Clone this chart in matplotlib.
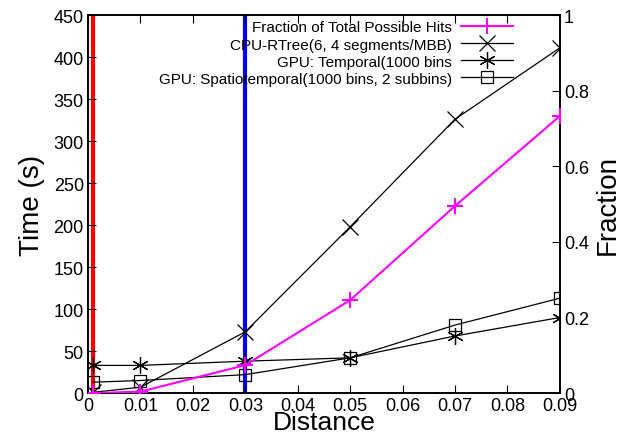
import matplotlib.pyplot as plt
from matplotlib.ticker import FixedLocator

plt.rcParams['font.family'] = ['Liberation Sans', 'DejaVu Sans']

distance = [0.001, 0.01, 0.03, 0.05, 0.07, 0.09]
cpu_rtree = [1, 7, 73, 198, 326, 411]
gpu_temporal = [33, 33, 38, 42, 68, 90]
gpu_spatio = [13, 15, 22, 42, 81, 113]
fraction = [0.0, 0.004, 0.074, 0.246, 0.495, 0.733]

red_line = 0.001
blue_line = 0.03

fig = plt.figure(figsize=(6.2, 4.35), dpi=100)
ax = fig.add_axes([0.142, 0.094, 0.761, 0.869])
ax2 = ax.twinx()

ax.axvline(red_line, color='#ff0000', lw=3, zorder=1)
ax.axvline(blue_line, color='#0000ff', lw=3, zorder=1)

l2, = ax.plot(distance, cpu_rtree, color='black', lw=0.9, marker='x', ms=11, mew=0.9,
              label='CPU-RTree(6, 4 segments/MBB)', zorder=3)
l3, = ax.plot(distance, gpu_temporal, color='black', lw=0.9, marker=(6, 2, 0), ms=12, mew=0.9,
              label='GPU: Temporal(1000 bins', zorder=3)
l4, = ax.plot(distance, gpu_spatio, color='black', lw=0.9, marker='s', ms=9, mew=0.9,
              mfc='none', label='GPU: Spatiotemporal(1000 bins, 2 subbins)', zorder=3)
l1, = ax2.plot(distance, fraction, color='#ff00ff', lw=1.5, marker='+', ms=11, mew=1.5,
               label='Fraction of Total Possible Hits', zorder=3)

ax.set_xlim(0, 0.09)
ax.set_ylim(0, 450)
ax2.set_ylim(0, 1)

ax.xaxis.set_major_locator(FixedLocator([0, 0.01, 0.02, 0.03, 0.04, 0.05, 0.06, 0.07, 0.08, 0.09]))
ax.set_xticklabels(['0', '0.01', '0.02', '0.03', '0.04', '0.05', '0.06', '0.07', '0.08', '0.09'])
ax.yaxis.set_major_locator(FixedLocator(range(0, 451, 50)))
ax2.yaxis.set_major_locator(FixedLocator([0, 0.2, 0.4, 0.6, 0.8, 1]))
ax2.set_yticklabels(['0', '0.2', '0.4', '0.6', '0.8', '1'])

ax.tick_params(axis='x', direction='in', top=True, length=6, labelsize=13, pad=3)
ax.tick_params(axis='y', direction='in', right=False, length=6, labelsize=13, pad=3)
ax2.tick_params(axis='y', direction='in', length=6, labelsize=13, pad=3)

for a in (ax, ax2):
    for s in a.spines.values():
        s.set_linewidth(1.2)

ax.set_xlabel('Distance', fontsize=19, labelpad=-3)
ax.set_ylabel('Time (s)', fontsize=20, labelpad=6)
ax2.set_ylabel('Fraction', fontsize=20, labelpad=4)

ax2.legend(handles=[l1, l2, l3, l4], loc='upper right', bbox_to_anchor=(0.92, 1.01),
           frameon=False, markerfirst=False, fontsize=11, handlelength=3.4,
           handletextpad=0.6, labelspacing=0.2, borderaxespad=0.2)

fig.savefig('out.png', dpi=100)
